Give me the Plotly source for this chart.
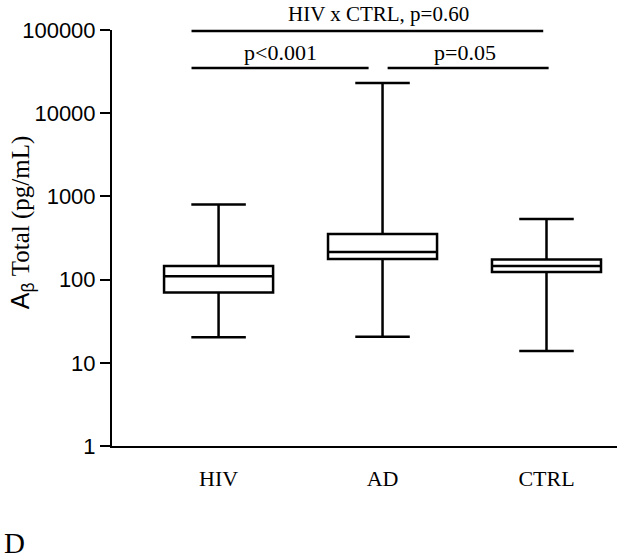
import plotly.graph_objects as go

# groups and their box statistics
groups = ["HIV", "AD", "CTRL"]
q1 = [70, 177, 123]
median = [110, 215, 146]
q3 = [146, 353, 175]
lower_whisker = [20.3, 20.6, 13.9]
upper_whisker = [800, 23000, 535]

# y ticks
tick_vals = [1, 10, 100, 1000, 10000, 100000]
tick_text = ["1", "10", "100", "1000", "10000", "100000"]

# comparison labels
comparisons = ["HIV x CTRL, p=0.60", "p<0.001", "p=0.05"]

serif = "Liberation Serif, Times New Roman, serif"
sans = "Liberation Sans, Arial, sans-serif"

fig = go.Figure()

fig.add_trace(go.Box(
    x=groups, q1=q1, median=median, q3=q3,
    lowerfence=lower_whisker, upperfence=upper_whisker,
    width=0.665, whiskerwidth=0.5,
    fillcolor="white", line=dict(color="black", width=2.5),
    boxpoints=False, showlegend=False, hoverinfo="skip"))

fig.update_xaxes(
    type="category", range=[-0.65, 2.43],
    showline=True, linecolor="black", linewidth=2,
    ticks="outside", ticklen=12, tickcolor="rgba(0,0,0,0)",
    tickfont=dict(family=serif, size=22, color="black"),
    showgrid=False, zeroline=False)

fig.update_yaxes(
    type="log", range=[0, 5],
    tickvals=tick_vals, ticktext=tick_text,
    showline=True, linecolor="black", linewidth=2,
    ticks="outside", ticklen=10, tickwidth=2, tickcolor="black",
    tickfont=dict(family=sans, size=22, color="black"),
    showgrid=False, zeroline=False)

# significance bars
line = dict(color="black", width=2.5)
fig.add_shape(type="line", xref="x", yref="paper", x0=-0.165, x1=1.98, y0=0.9976, y1=0.9976, line=line)
fig.add_shape(type="line", xref="x", yref="paper", x0=-0.165, x1=0.915, y0=0.9087, y1=0.9087, line=line)
fig.add_shape(type="line", xref="x", yref="paper", x0=1.031, x1=2.013, y0=0.9087, y1=0.9087, line=line)

txt = dict(family=serif, size=22, color="black")
fig.add_annotation(text=comparisons[0], xref="x", yref="paper", x=0.976, y=1.0385,
                   showarrow=False, font=dict(family=serif, size=21, color="black"),
                   xanchor="center", yanchor="middle")
fig.add_annotation(text=comparisons[1], xref="x", yref="paper", x=0.378, y=0.947,
                   showarrow=False, font=txt, xanchor="center", yanchor="middle")
fig.add_annotation(text=comparisons[2], xref="x", yref="paper", x=1.5, y=0.947,
                   showarrow=False, font=txt, xanchor="center", yanchor="middle")

# y axis title: sans A with subscript beta, serif rest
fig.add_annotation(
    text="<span style='font-family:Liberation Sans'>A<sub>β</sub></span> Total (pg/mL)",
    xref="paper", yref="paper", x=-0.178, y=0.538, textangle=-90,
    xanchor="center", yanchor="middle",
    showarrow=False, font=dict(family=serif, size=25, color="black"))

# panel letter
fig.add_annotation(text="D", xref="paper", yref="paper", x=-0.194, y=-0.233,
                   xanchor="center", yanchor="middle",
                   showarrow=False, font=dict(family=serif, size=29, color="black"))

fig.update_layout(
    width=625, height=559,
    margin=dict(l=112, r=8, t=30, b=113),
    plot_bgcolor="white", paper_bgcolor="white")

# drop the default page margin so the figure fills the window
fig.write_html("out.html", config={"displayModeBar": False},
               post_script="document.body.style.margin='0';")
